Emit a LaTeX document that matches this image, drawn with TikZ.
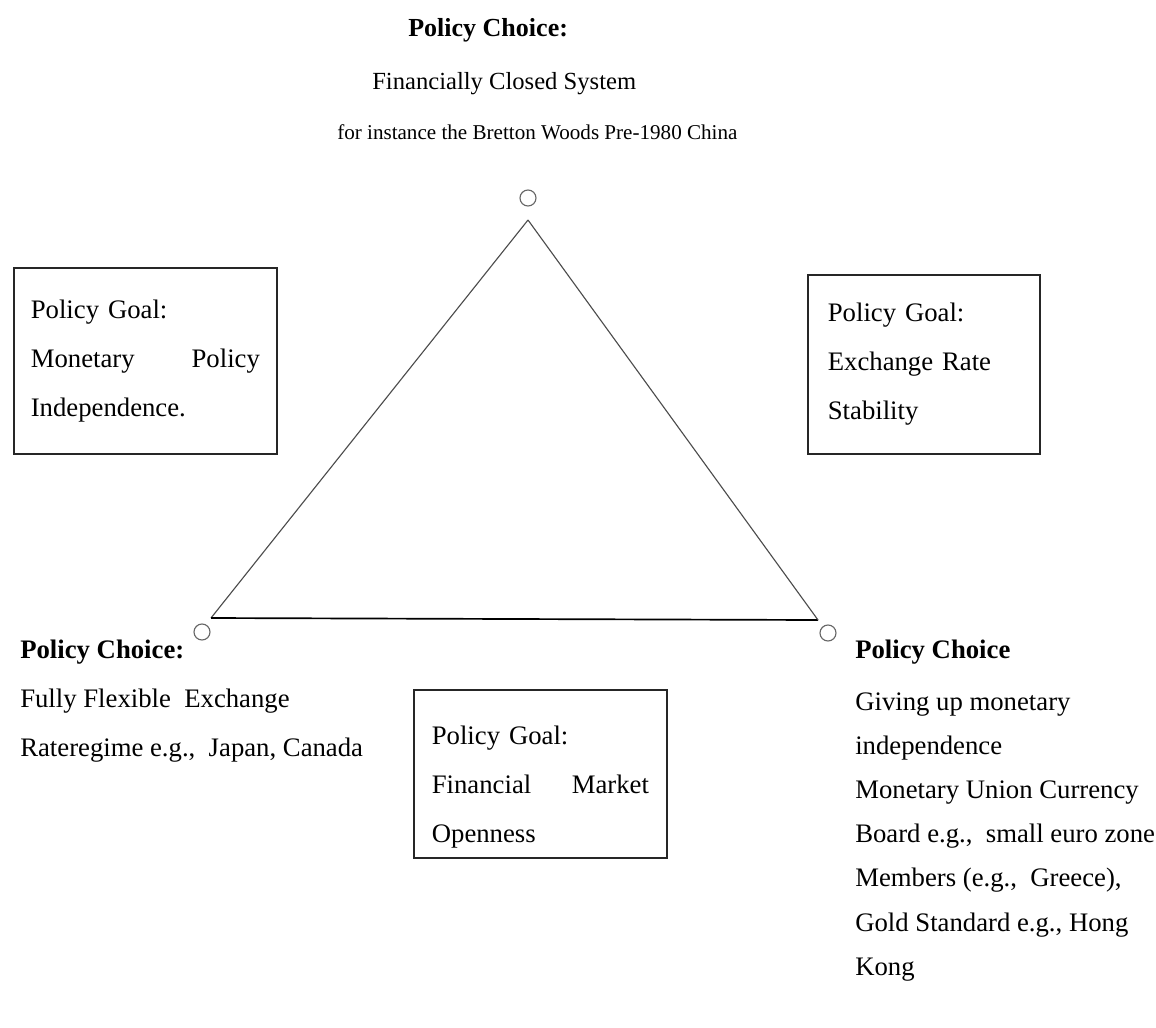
\documentclass[tikz,border=0pt]{standalone}
\usepackage{fontspec}
\setmainfont{Liberation Serif}
\begin{document}
\begin{tikzpicture}[
    x=0.025cm, y=-0.025cm,
    vertex/.style  = {draw=black!60, circle, line width=0.8pt, minimum size=0.4cm, inner sep=0pt},
    side/.style    = {draw=black!70, line width=0.8pt},
    base/.style    = {draw=black, line width=1.2pt},
    goal/.style    = {draw=black!85, line width=1.2pt, anchor=north west, align=left,
                      font=\fontsize{19}{35}\selectfont},
    choice/.style  = {anchor=base west, align=left, inner sep=0pt},
  ]
	\useasboundingbox (0,0) rectangle (1156,1027);

	% Ecken des Dreiecks
	\coordinate (A) at (528,220); % oben
	\coordinate (B) at (211,618); % links unten
	\coordinate (C) at (818,620); % rechts unten

	% Kreise
	\node[vertex] (V1) at (528,198) {};
	\node[vertex] (V2) at (202,632) {};
	\node[vertex] (V3) at (828,633) {};

	% Dreieck
	\draw[side] (A) -- (B);
	\draw[base] (B) -- (C);
	\draw[side] (C) -- (A);

	% Policy Choice oben
	\node[choice, font=\fontsize{18.5}{20}\selectfont\bfseries] (T1) at (408,36) {Policy Choice:};
	\node[choice, font=\fontsize{17.5}{20}\selectfont] (T2) at (372,89) {Financially Closed System};
	\node[choice, font=\fontsize{15}{20}\selectfont] (T3) at (337,139) {for instance the Bretton Woods Pre-1980 China};

	% Policy Goals
	\node[goal, text width=5.725cm, inner xsep=0.425cm, minimum height=4.65cm] (G1) at (13,267)
	  {Policy Goal:\\ Monetary\hfill Policy\\ Independence.};
	\node[goal, text width=4.8cm, inner xsep=0.5cm, minimum height=4.475cm] (G2) at (807,274)
	  {Policy Goal:\\ Exchange Rate\\ Stability};
	\node[goal, text width=5.425cm, inner xsep=0.45cm, minimum height=4.2cm] (G3) at (413,689)
	  {\rule{0pt}{32pt}Policy Goal:\\ Financial\hfill Market\\ Openness};

	% Policy Choice links und rechts (Basislinie der letzten Zeile)
	\node[choice, font=\fontsize{19}{34.8}\selectfont] (L) at (20,756)
	  {\textbf{Policy Choice:}\\ Fully Flexible\ \ Exchange\\ Rateregime e.g.,\ \ Japan, Canada};
	\node[choice, font=\fontsize{19}{31.3}\selectfont] (R) at (855,975)
	  {\textbf{Policy Choice}\\[6pt] Giving up monetary\\ independence\\ Monetary Union Currency\\
	   Board e.g.,\ \ small euro zone\\ Members (e.g.,\ \ Greece),\\ Gold Standard e.g., Hong\\ Kong};

\end{tikzpicture}
\end{document}
